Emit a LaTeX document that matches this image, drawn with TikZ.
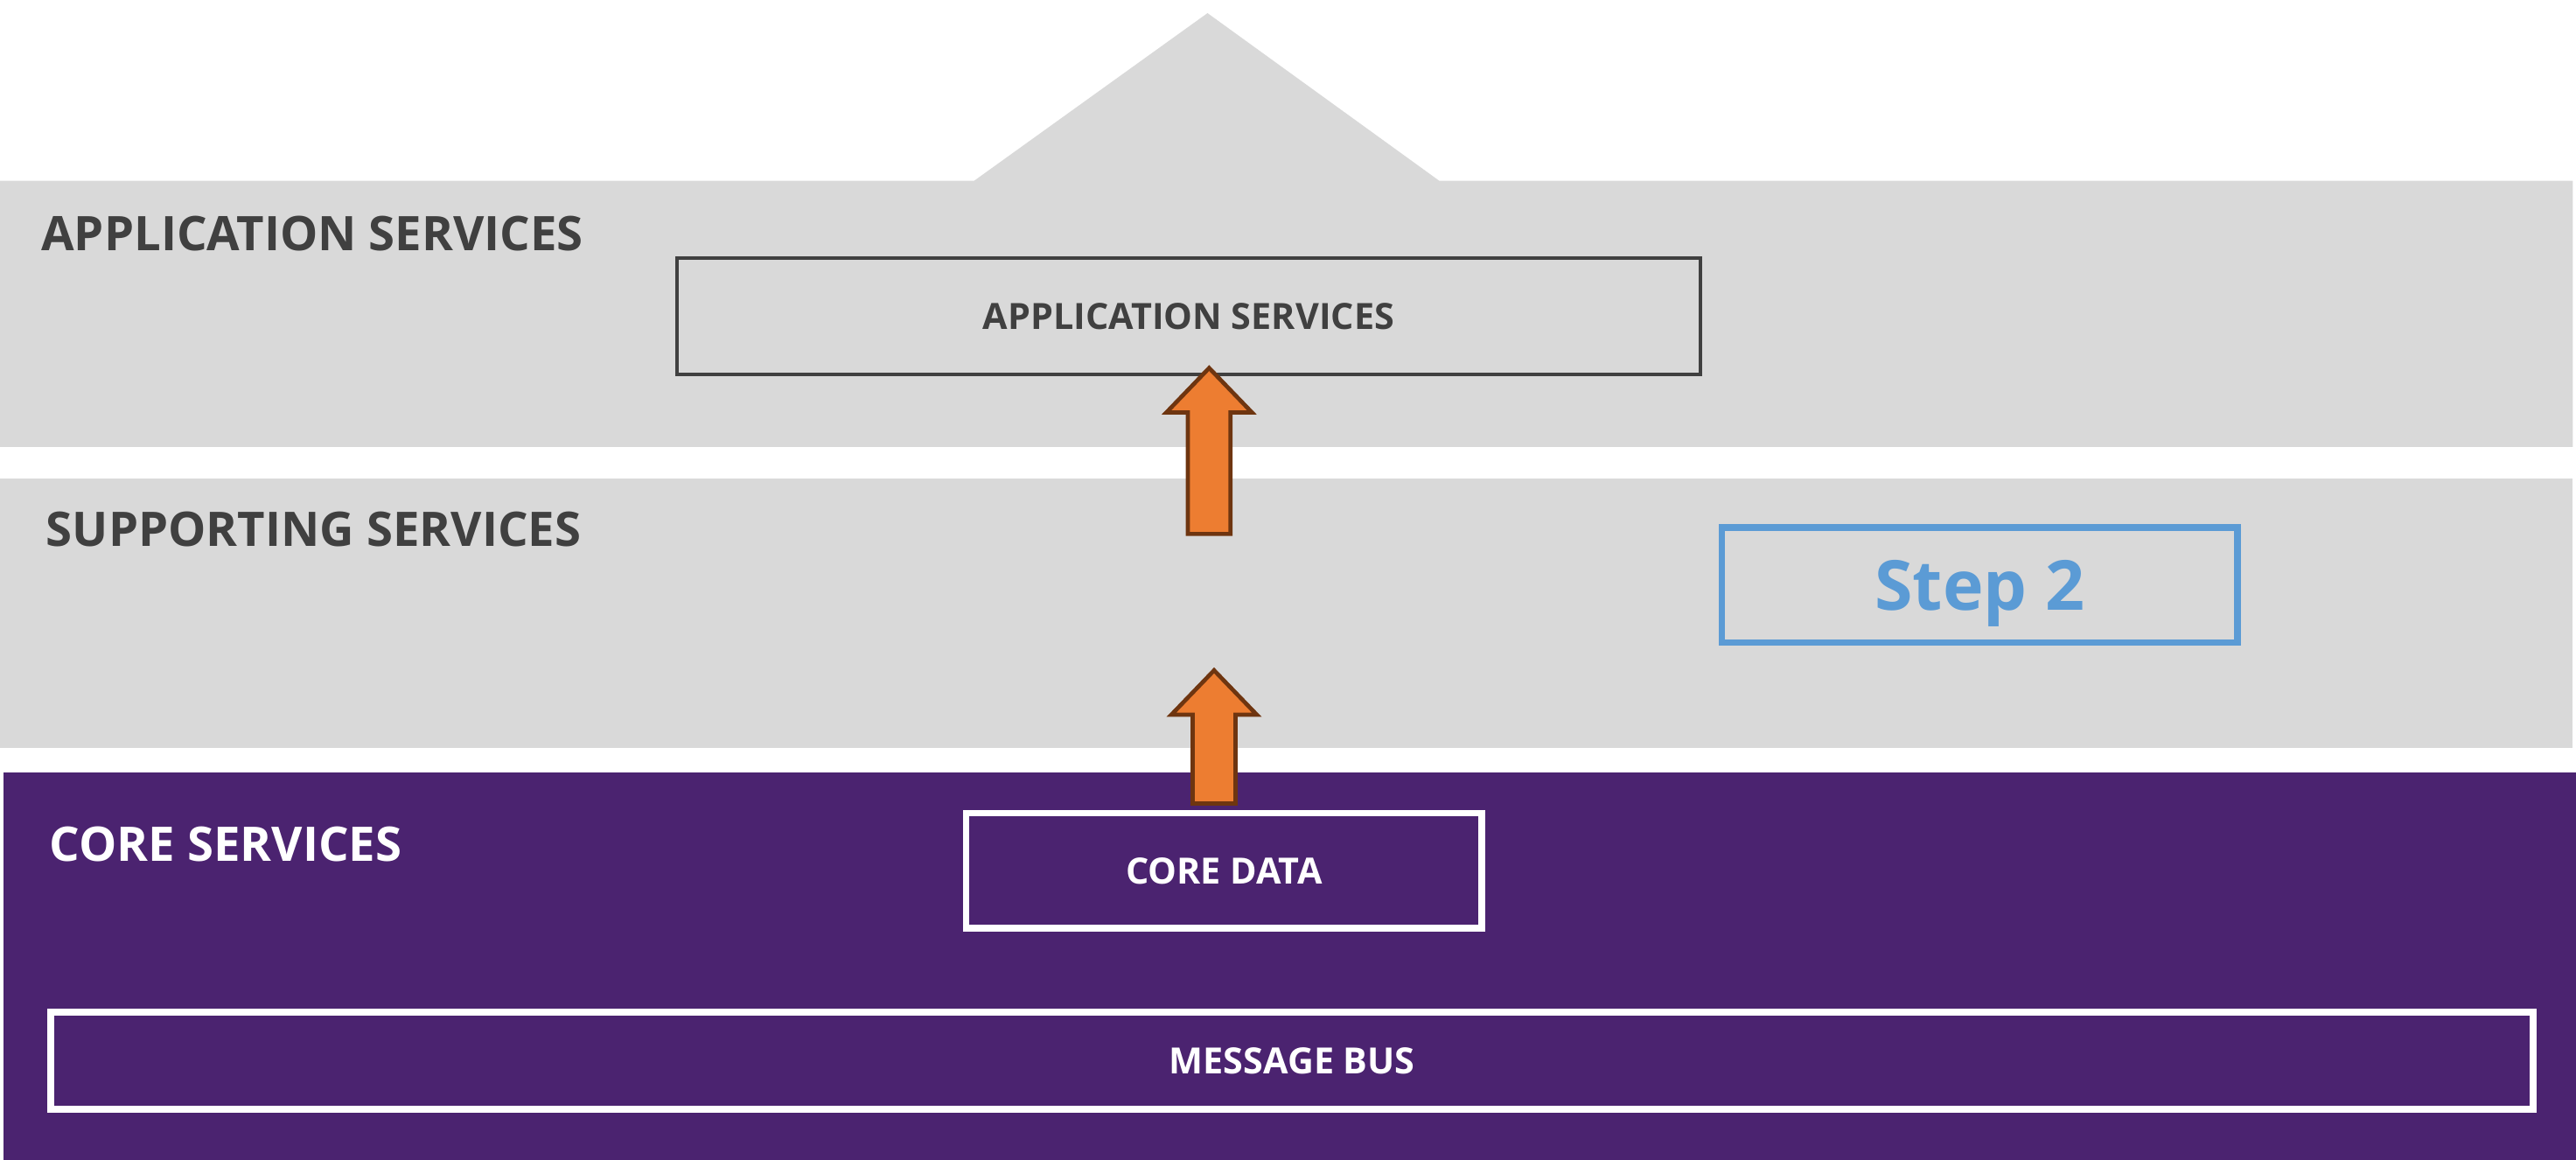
\documentclass[tikz,border=0pt]{standalone}
\usepackage{fontspec}
\setmainfont{Open Sans}
\usetikzlibrary{positioning}

\definecolor{bandgray}{HTML}{D9D9D9}
\definecolor{corepurple}{HTML}{4B2370}
\definecolor{labelgray}{HTML}{404040}
\definecolor{stepblue}{HTML}{5B9BD5}
\definecolor{arrowfill}{HTML}{ED7D31}
\definecolor{arrowline}{HTML}{6E3510}

\tikzset{
    band/.style={fill=bandgray, draw=none},
    layerlabel/.style={anchor=west, font=\bfseries\fontsize{29}{34}\selectfont, inner sep=0pt},
    servicebox/.style={draw, line width=2.5pt, minimum height=70pt, inner sep=0pt,
        font=\bfseries\fontsize{22}{26}\selectfont},
    blockarr/.style={fill=arrowfill, draw=arrowline, line width=2.5pt, line join=miter}
}

% block arrow pointing up: tail point, length
\newcommand{\blockup}[2]{%
    \draw[blockarr] ([xshift=-13pt]#1) -- ++(0,{#2-27}) -- ++(-13,0) -- ++(26,27)
        -- ++(26,-27) -- ++(-13,0) -- ++(0,{27-#2}) -- cycle;}

\begin{document}
\begin{tikzpicture}[x=1pt, y=1pt]
    \useasboundingbox (0,0) rectangle (1568,706);

    % Layers
    \fill[bandgray] (0,434) -- (0,596) -- (593,596) -- (735,698) -- (876,596)
        -- (1566,596) -- (1566,434) -- cycle;
    \fill[band] (0,251) rectangle (1566,415);
    \fill[corepurple] (2,0) rectangle (1568,236);

    % Layer titles
    \node[layerlabel, text=labelgray] (applabel) at (25,564) {APPLICATION SERVICES};
    \node[layerlabel, text=labelgray] (suplabel) at (28,384) {SUPPORTING SERVICES};
    \node[layerlabel, text=white] (corelabel) at (30,192) {CORE SERVICES};

    % Service boxes
    \node[servicebox, draw=labelgray, text=labelgray, line width=2pt,
        minimum width=623pt, minimum height=71pt] (appsvc) at (723.5,513.5) {APPLICATION SERVICES};
    \node[servicebox, draw=stepblue, text=stepblue, line width=4pt, text depth=0pt,
        minimum width=314pt, font=\bfseries\fontsize{42}{48}\selectfont] (step) at (1205,350) {Step 2};
    \node[servicebox, draw=white, text=white, line width=4pt,
        minimum width=314pt] (coredata) at (745,176) {CORE DATA};
    \node[servicebox, draw=white, text=white, line width=4pt,
        minimum width=1511pt, minimum height=59pt] (msgbus) at (786.5,60.5) {MESSAGE BUS};

    % Flow arrows
    \coordinate (lowtail) at ([yshift=4pt]coredata.north -| 739,0);
    \coordinate (hightail) at (736,381);
    \blockup{lowtail}{81}
    \blockup{hightail}{101}
\end{tikzpicture}
\end{document}
